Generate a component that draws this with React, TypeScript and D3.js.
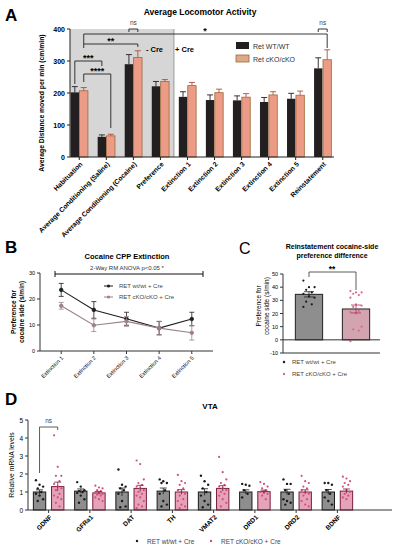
import React from 'react';
import * as d3 from 'd3';

const FONT = 'Liberation Sans, Arial, Helvetica, sans-serif';

// ---- Panel A: locomotor activity
const stages = [
  'Habituation',
  'Average Conditioning (Saline)',
  'Average Conditioning (Cocaine)',
  'Preference',
  'Extinction 1',
  'Extinction 2',
  'Extinction 3',
  'Extinction 4',
  'Extinction 5',
  'Reinstatement',
];
const locoWT = [202, 63, 290, 221, 188, 178, 177, 172, 182, 277];
const locoWTErr = [18, 6, 30, 15, 16, 16, 14, 14, 17, 33];
const locoKO = [207, 66, 311, 236, 223, 201, 187, 194, 193, 304];
const locoKOErr = [10, 5, 21, 6, 10, 11, 11, 10, 13, 31];
const locoTicks = [0, 100, 200, 300, 400];

// ---- Panel B: extinction
const extDays = ['Extinction 1', 'Extinction 2', 'Extinction 3', 'Extinction 4', 'Extinction 5'];
const extWT = [23.5, 15.8, 12.4, 8.8, 12.3];
const extWTErr = [2.5, 3.2, 2.5, 2.6, 2.6];
const extKO = [17.4, 9.9, 11.4, 8.8, 7.0];
const extKOErr = [1.3, 2.4, 1.9, 2.5, 2.8];
const extTicks = [0, 10, 20, 30];

// ---- Panel C: reinstatement preference
const reinWT = [45, 40, 40, 38, 36, 35, 33, 32, 29, 27, 25];
const reinKO = [37, 36, 36, 35, 34, 32, 27, 26, 25, 22, 21, 20, 10, 8, 7, -1];
const reinErr = [2.0, 3.0];
const reinTicks = [-10, 0, 10, 20, 30, 40, 50];

// ---- Panel D: VTA mRNA
const genes = ['GDNF', 'GFRa1', 'DAT', 'TH', 'VMAT2', 'DRD1', 'DRD2', 'BDNF'];
const mrnaWTMean = [1.0, 1.05, 1.0, 1.05, 1.0, 1.0, 1.0, 1.0];
const mrnaKOMean = [1.3, 0.95, 1.2, 1.0, 1.2, 1.02, 1.0, 1.05];
const mrnaWTErr = [0.12, 0.12, 0.22, 0.17, 0.18, 0.12, 0.15, 0.14];
const mrnaKOErr = [0.25, 0.08, 0.17, 0.13, 0.15, 0.08, 0.12, 0.12];
const mrnaWT = [
  [1.65, 1.4, 1.3, 1.2, 1.0, 0.9, 0.8, 0.6, 0.5],
  [1.55, 1.3, 1.1, 1.05, 1.0, 0.95, 0.8, 0.6, 0.4],
  [2.25, 1.4, 1.3, 1.2, 1.1, 0.9, 0.5, 0.2, 0.15],
  [1.7, 1.6, 1.5, 1.5, 1.1, 0.9, 0.5, 0.3, 0.2],
  [1.9, 1.6, 1.4, 1.2, 1.0, 0.8, 0.5, 0.3, 0.15],
  [1.45, 1.4, 1.35, 1.1, 0.9, 0.7],
  [1.7, 1.45, 1.45, 1.1, 0.9, 0.6, 0.5, 0.4, 0.3],
  [1.5, 1.5, 1.4, 1.1, 0.9, 0.7, 0.5, 0.3],
];
const mrnaKO = [
  [4.15, 2.4, 1.9, 1.9, 1.6, 1.45, 1.3, 1.2, 1.1, 0.9, 0.8, 0.7, 0.6, 0.4, 0.2],
  [1.35, 1.25, 1.2, 1.1, 1.05, 1.0, 0.95, 0.9, 0.85, 0.8, 0.7, 0.6, 0.5],
  [2.75, 2.55, 1.7, 1.5, 1.4, 1.3, 1.2, 1.1, 1.0, 0.9, 0.8, 0.7, 0.5, 0.3, 0.2, 0.1],
  [1.95, 1.6, 1.5, 1.4, 1.2, 1.1, 1.0, 0.9, 0.8, 0.6, 0.5, 0.3, 0.2, 0.1],
  [2.95, 2.1, 1.7, 1.5, 1.4, 1.3, 1.2, 1.1, 1.0, 0.9, 0.8, 0.6, 0.4, 0.2],
  [1.55, 1.45, 1.3, 1.2, 1.1, 1.0, 0.95, 0.9, 0.8, 0.6],
  [1.9, 1.6, 1.5, 1.3, 1.2, 1.1, 1.0, 0.9, 0.8, 0.6, 0.5, 0.3, 0.2],
  [1.85, 1.75, 1.6, 1.5, 1.4, 1.3, 1.1, 1.0, 0.9, 0.8, 0.7, 0.6],
];
const mrnaTicks = [0, 1, 2, 3, 4, 5];

const groupsA = ['WT', 'KO'];

// simple deterministic spread for dot plots
const jitter = (i: number, w: number) => (((i * 7) % 5) - 2) * (w / 5);

const PanelA = () => {
  const x = d3.scaleBand<string>().domain(stages).range([69, 333]).paddingInner(0.36).paddingOuter(0.06);
  const sub = d3.scaleBand<string>().domain(groupsA).range([0, x.bandwidth()]).paddingInner(0.06);
  const y = d3.scaleLinear().domain([0, 400]).range([157, 29]);
  const bw = sub.bandwidth();
  const cx = (i: number, g: string) => (x(stages[i]) || 0) + (sub(g) || 0) + bw / 2;
  const shadeEnd = (x(stages[3]) || 0) + x.bandwidth() + (x.step() - x.bandwidth()) / 2;

  const bracket = (x1: number, x2: number, top: number, f1: number, f2: number) =>
    `M${x1},${f1}V${top}H${x2}V${f2}`;

  return (
    <g fontFamily={FONT}>
      <text x={5} y={21} fontSize={17} fontWeight="bold">A</text>
      <text x={200} y={15} fontSize={8.5} fontWeight="bold" textAnchor="middle">Average Locomotor Activity</text>
      <rect x={70} y={y(400)} width={shadeEnd - 70} height={y(0) - y(400)} fill="#d6d6d6" />
      <line x1={shadeEnd} x2={shadeEnd} y1={y(400)} y2={y(0)} stroke="#888" strokeWidth={0.8} />
      <text x={163} y={52} fontSize={7.5} fontWeight="bold" textAnchor="end">- Cre</text>
      <text x={175} y={52} fontSize={7.5} fontWeight="bold">+ Cre</text>

      {stages.map((s, i) => (
        <g key={s}>
          <rect x={cx(i, 'WT') - bw / 2} y={y(locoWT[i])} width={bw} height={y(0) - y(locoWT[i])} fill="#231f20" />
          <rect x={cx(i, 'KO') - bw / 2} y={y(locoKO[i])} width={bw} height={y(0) - y(locoKO[i])} fill="#ec9c86" stroke="#9d6a3c" strokeWidth={0.8} />
          <path d={`M${cx(i, 'WT')},${y(locoWT[i])}V${y(locoWT[i] + locoWTErr[i])}M${cx(i, 'WT') - 3},${y(locoWT[i] + locoWTErr[i])}h6`} stroke="#231f20" strokeWidth={0.9} />
          <path d={`M${cx(i, 'KO')},${y(locoKO[i])}V${y(locoKO[i] + locoKOErr[i])}M${cx(i, 'KO') - 3},${y(locoKO[i] + locoKOErr[i])}h6`} stroke="#b0503c" strokeWidth={0.9} />
        </g>
      ))}

      {/* axes */}
      <line x1={70} x2={70} y1={y(400)} y2={y(0)} stroke="#222" />
      <line x1={70} x2={334} y1={y(0)} y2={y(0)} stroke="#222" />
      {locoTicks.map((t) => (
        <g key={t}>
          <line x1={67} x2={70} y1={y(t)} y2={y(t)} stroke="#222" />
          <text x={65} y={y(t) + 2.5} fontSize={7} fontWeight="bold" textAnchor="end">{t}</text>
        </g>
      ))}
      {stages.map((s, i) => {
        const tx = (x(s) || 0) + x.bandwidth() / 2;
        return (
          <g key={s}>
            <line x1={tx} x2={tx} y1={y(0)} y2={y(0) + 3} stroke="#222" />
            <text transform={`translate(${tx + 2},${y(0) + 6}) rotate(-45)`} fontSize={6.8} fontWeight="bold" textAnchor="end" dy="0.35em">{s}</text>
          </g>
        );
      })}
      <text transform={`translate(44,${(y(0) + y(400)) / 2 + 10}) rotate(-90)`} fontSize={6.8} fontWeight="bold" textAnchor="middle">Average Distance moved per min (cm/min)</text>

      {/* significance */}
      <g stroke="#222" strokeWidth={0.9} fill="none">
        <path d={bracket(cx(0, 'WT'), cx(1, 'WT'), 61, 84, 66)} />
        <path d={bracket(cx(0, 'KO'), cx(1, 'KO'), 74, 82, 128)} />
        <path d={bracket(cx(0, 'KO'), cx(2, 'KO'), 44, 48, 47)} />
        <path d={bracket(cx(0, 'KO'), cx(9, 'KO'), 34, 44, 48)} />
        <path d={bracket(cx(2, 'WT'), cx(2, 'KO'), 29, 32, 32)} />
        <path d={bracket(cx(9, 'WT'), cx(9, 'KO'), 29, 32, 32)} />
      </g>
      <g fontSize={9} fontWeight="bold" textAnchor="middle">
        <text x={(cx(0, 'WT') + cx(1, 'WT')) / 2} y={61}>***</text>
        <text x={(cx(0, 'KO') + cx(1, 'KO')) / 2} y={74}>****</text>
        <text x={(cx(0, 'KO') + cx(2, 'KO')) / 2} y={44}>**</text>
        <text x={205} y={34}>*</text>
      </g>
      <g fontSize={6.5} fill="#444" textAnchor="middle">
        <text x={(cx(2, 'WT') + cx(2, 'KO')) / 2} y={25}>ns</text>
        <text x={(cx(9, 'WT') + cx(9, 'KO')) / 2} y={25}>ns</text>
      </g>

      {/* legend */}
      <rect x={236} y={42} width={13} height={7} fill="#231f20" />
      <text x={253} y={48.5} fontSize={7} fill="#333">Ret WT/WT</text>
      <rect x={236} y={55} width={13} height={7} fill="#dca98a" stroke="#9d6a3c" strokeWidth={0.8} />
      <text x={253} y={61.5} fontSize={7} fill="#333">Ret cKO/cKO</text>
    </g>
  );
};

const PanelB = () => {
  const x = d3.scalePoint<string>().domain(extDays).range([40, 213]).padding(0.65);
  const y = d3.scaleLinear().domain([0, 30]).range([351, 273]);
  const line = d3.line<number>().x((_, i) => x(extDays[i]) || 0).y((d) => y(d));
  const series = [
    { v: extWT, e: extWTErr, c: '#1e1e1e' },
    { v: extKO, e: extKOErr, c: '#9c8189' },
  ];
  return (
    <g fontFamily={FONT}>
      <text x={5} y={253} fontSize={17} fontWeight="bold">B</text>
      <text x={127} y={259} fontSize={7.5} fontWeight="bold" textAnchor="middle">Cocaine CPP Extinction</text>
      <text x={127} y={270} fontSize={6} fill="#333" textAnchor="middle">2-Way RM ANOVA p&lt;0.05 *</text>
      <path d="M55,271V277M55,274H203M203,271V277" stroke="#111" strokeWidth={1} fill="none" />

      {series.map((s, k) => (
        <g key={k}>
          <path d={line(s.v) || ''} fill="none" stroke={s.c} strokeWidth={1.1} />
          {s.v.map((v, i) => {
            const px = x(extDays[i]) || 0;
            return (
              <g key={i} stroke={s.c} strokeWidth={0.8}>
                <path d={`M${px},${y(v - s.e[i])}V${y(v + s.e[i])}M${px - 2.5},${y(v - s.e[i])}h5M${px - 2.5},${y(v + s.e[i])}h5`} />
                <circle cx={px} cy={y(v)} r={1.8} fill={s.c} />
              </g>
            );
          })}
        </g>
      ))}

      <line x1={40} x2={40} y1={y(30)} y2={y(0)} stroke="#333" />
      <line x1={40} x2={213} y1={y(0)} y2={y(0)} stroke="#333" />
      {extTicks.map((t) => (
        <g key={t}>
          <line x1={37} x2={40} y1={y(t)} y2={y(t)} stroke="#333" />
          <text x={35} y={y(t) + 2} fontSize={5.5} textAnchor="end">{t}</text>
        </g>
      ))}
      {extDays.map((d) => {
        const px = x(d) || 0;
        return (
          <g key={d}>
            <line x1={px} x2={px} y1={y(0)} y2={y(0) + 3} stroke="#333" />
            <text transform={`translate(${px + 1},${y(0) + 6}) rotate(-45)`} fontSize={5.5} textAnchor="end" dy="0.35em">{d}</text>
          </g>
        );
      })}
      <text transform={`translate(16,${312}) rotate(-90)`} fontSize={6.5} fontWeight="bold" textAnchor="middle">
        <tspan x={0} dy={0}>Preference for</tspan>
        <tspan x={0} dy={7.5}>cocaine side (s/min)</tspan>
      </text>

      <line x1={104} x2={113} y1={286} y2={286} stroke="#1e1e1e" strokeWidth={1} />
      <circle cx={108.5} cy={286} r={1.6} fill="#1e1e1e" />
      <text x={119} y={288} fontSize={6} fill="#444">RET wt/wt + Cre</text>
      <line x1={104} x2={113} y1={297} y2={297} stroke="#9c8189" strokeWidth={1} />
      <circle cx={108.5} cy={297} r={1.6} fill="#9c8189" />
      <text x={119} y={299} fontSize={6} fill="#444">RET cKO/cKO + Cre</text>
    </g>
  );
};

const PanelC = () => {
  const x = d3.scaleBand<string>().domain(['WT', 'KO']).range([285, 380]).paddingInner(0.42).paddingOuter(0.22);
  const y = d3.scaleLinear().domain([-10, 50]).range([353, 274]);
  const bw = x.bandwidth();
  const cols = [
    { vals: reinWT, fill: '#8e8e8e', dot: '#1a1a1a', key: 'WT' },
    { vals: reinKO, fill: '#d2a4b0', dot: '#e0668e', key: 'KO' },
  ];
  return (
    <g fontFamily={FONT}>
      <text x={239} y={254} fontSize={16} fontWeight="normal">C</text>
      <text x={332} y={249} fontSize={7} fontWeight="bold" textAnchor="middle">Reinstatement cocaine-side</text>
      <text x={332} y={258} fontSize={7} fontWeight="bold" textAnchor="middle">preference difference</text>

      {cols.map((c, k) => {
        const m = d3.mean(c.vals) || 0;
        const x0 = x(c.key) || 0;
        const mid = x0 + bw / 2;
        return (
          <g key={c.key}>
            <rect x={x0} y={y(m)} width={bw} height={y(0) - y(m)} fill={c.fill} stroke="#222" strokeWidth={1} />
            {c.vals.map((v, i) => (
              <circle key={i} cx={mid + jitter(i, 14)} cy={y(v)} r={1.1} fill={c.dot} />
            ))}
            <path d={`M${mid},${y(m - reinErr[k])}V${y(m + reinErr[k])}M${mid - 5},${y(m - reinErr[k])}h10M${mid - 5},${y(m + reinErr[k])}h10`} stroke={k === 0 ? '#222' : '#b03060'} strokeWidth={0.8} />
          </g>
        );
      })}

      <line x1={283} x2={283} y1={y(50)} y2={y(-10)} stroke="#333" />
      <line x1={283} x2={380} y1={y(0)} y2={y(0)} stroke="#333" />
      <line x1={283} x2={380} y1={y(-10)} y2={y(-10)} stroke="#333" />
      {reinTicks.map((t) => (
        <g key={t}>
          <line x1={280} x2={283} y1={y(t)} y2={y(t)} stroke="#333" />
          <text x={278} y={y(t) + 2} fontSize={5.5} textAnchor="end">{t}</text>
        </g>
      ))}
      <text transform={`translate(261,${306}) rotate(-90)`} fontSize={6.5} textAnchor="middle">
        <tspan x={0} dy={0}>Preference for</tspan>
        <tspan x={0} dy={7.5}>cocaine side (s/min)</tspan>
      </text>

      <path d={`M${(x('WT') || 0) + bw / 2},277V272H${(x('KO') || 0) + bw / 2}V290`} stroke="#333" strokeWidth={0.8} fill="none" />
      <text x={332} y={272} fontSize={8.5} fontWeight="bold" textAnchor="middle">**</text>

      <circle cx={284} cy={362} r={1.2} fill="#1a1a1a" />
      <text x={292} y={364} fontSize={6} fill="#444">RET wt/wt + Cre</text>
      <circle cx={284} cy={374} r={1.2} fill="#e0668e" />
      <text x={292} y={376} fontSize={6} fill="#444">RET cKO/cKO + Cre</text>
    </g>
  );
};

const PanelD = () => {
  const x = d3.scaleBand<string>().domain(genes).range([28, 358]).paddingInner(0.26).paddingOuter(0.13);
  const sub = d3.scaleBand<string>().domain(groupsA).range([0, x.bandwidth()]).paddingInner(0.32);
  const y = d3.scaleLinear().domain([0, 5]).range([510, 420]);
  const bw = sub.bandwidth();
  const cx = (i: number, g: string) => (x(genes[i]) || 0) + (sub(g) || 0) + bw / 2;
  return (
    <g fontFamily={FONT}>
      <text x={5} y={405} fontSize={17} fontWeight="bold">D</text>
      <text x={210} y={409} fontSize={8} fontWeight="bold" textAnchor="middle">VTA</text>

      {genes.map((g, i) => {
        const wx = cx(i, 'WT');
        const kx = cx(i, 'KO');
        return (
          <g key={g}>
            <rect x={wx - bw / 2} y={y(mrnaWTMean[i])} width={bw} height={y(0) - y(mrnaWTMean[i])} fill="#8e8e8e" stroke="#1a1a1a" strokeWidth={1} />
            <rect x={kx - bw / 2} y={y(mrnaKOMean[i])} width={bw} height={y(0) - y(mrnaKOMean[i])} fill="#e6a2b8" stroke="#7a1f3c" strokeWidth={1} />
            {mrnaWT[i].map((v, j) => (
              <circle key={'w' + j} cx={wx + jitter(j, 9)} cy={y(v)} r={1.2} fill="#1a1a1a" />
            ))}
            {mrnaKO[i].map((v, j) => (
              <circle key={'k' + j} cx={kx + jitter(j, 9)} cy={y(v)} r={1.1} fill="#d24f7e" />
            ))}
            <path d={`M${wx},${y(mrnaWTMean[i] - mrnaWTErr[i])}V${y(mrnaWTMean[i] + mrnaWTErr[i])}M${wx - 3.5},${y(mrnaWTMean[i] + mrnaWTErr[i])}h7`} stroke="#1a1a1a" strokeWidth={0.8} />
            <path d={`M${kx},${y(mrnaKOMean[i] - mrnaKOErr[i])}V${y(mrnaKOMean[i] + mrnaKOErr[i])}M${kx - 3.5},${y(mrnaKOMean[i] + mrnaKOErr[i])}h7`} stroke="#7a1f3c" strokeWidth={0.8} />
          </g>
        );
      })}

      <line x1={28} x2={28} y1={y(5)} y2={y(0)} stroke="#333" />
      <line x1={28} x2={392} y1={y(0)} y2={y(0)} stroke="#333" />
      {mrnaTicks.map((t) => (
        <g key={t}>
          <line x1={25} x2={28} y1={y(t)} y2={y(t)} stroke="#333" />
          <text x={23} y={y(t) + 2.5} fontSize={6.5} textAnchor="end">{t}</text>
        </g>
      ))}
      {genes.map((g) => {
        const px = (x(g) || 0) + x.bandwidth() / 2;
        return (
          <g key={g}>
            <line x1={px} x2={px} y1={y(0)} y2={y(0) + 3} stroke="#333" />
            <text transform={`translate(${px + 2},${y(0) + 6}) rotate(-45)`} fontSize={6.5} fontWeight="bold" textAnchor="end" dy="0.35em">{g}</text>
          </g>
        );
      })}
      <text transform={`translate(14,${465}) rotate(-90)`} fontSize={6.8} textAnchor="middle">Relative mRNA levels</text>

      <path d={`M${cx(0, 'WT')},473V427H${cx(0, 'KO')}V430`} stroke="#333" strokeWidth={0.8} fill="none" />
      <text x={(cx(0, 'WT') + cx(0, 'KO')) / 2} y={423} fontSize={6.5} fill="#444" textAnchor="middle">ns</text>

      <circle cx={137} cy={541} r={1.2} fill="#1a1a1a" />
      <text x={147} y={543.5} fontSize={6.5} fill="#444">RET wt/wt + Cre</text>
      <circle cx={211} cy={541} r={1.2} fill="#d24f7e" />
      <text x={221} y={543.5} fontSize={6.5} fill="#444">RET cKO/cKO + Cre</text>
    </g>
  );
};

export default function App() {
  return (
    <svg width={395} height={550} style={{ position: 'absolute', left: 0, top: 0, background: '#fff' }}>
      <rect width={395} height={550} fill="#fff" />
      <PanelA />
      <PanelB />
      <PanelC />
      <PanelD />
    </svg>
  );
}
